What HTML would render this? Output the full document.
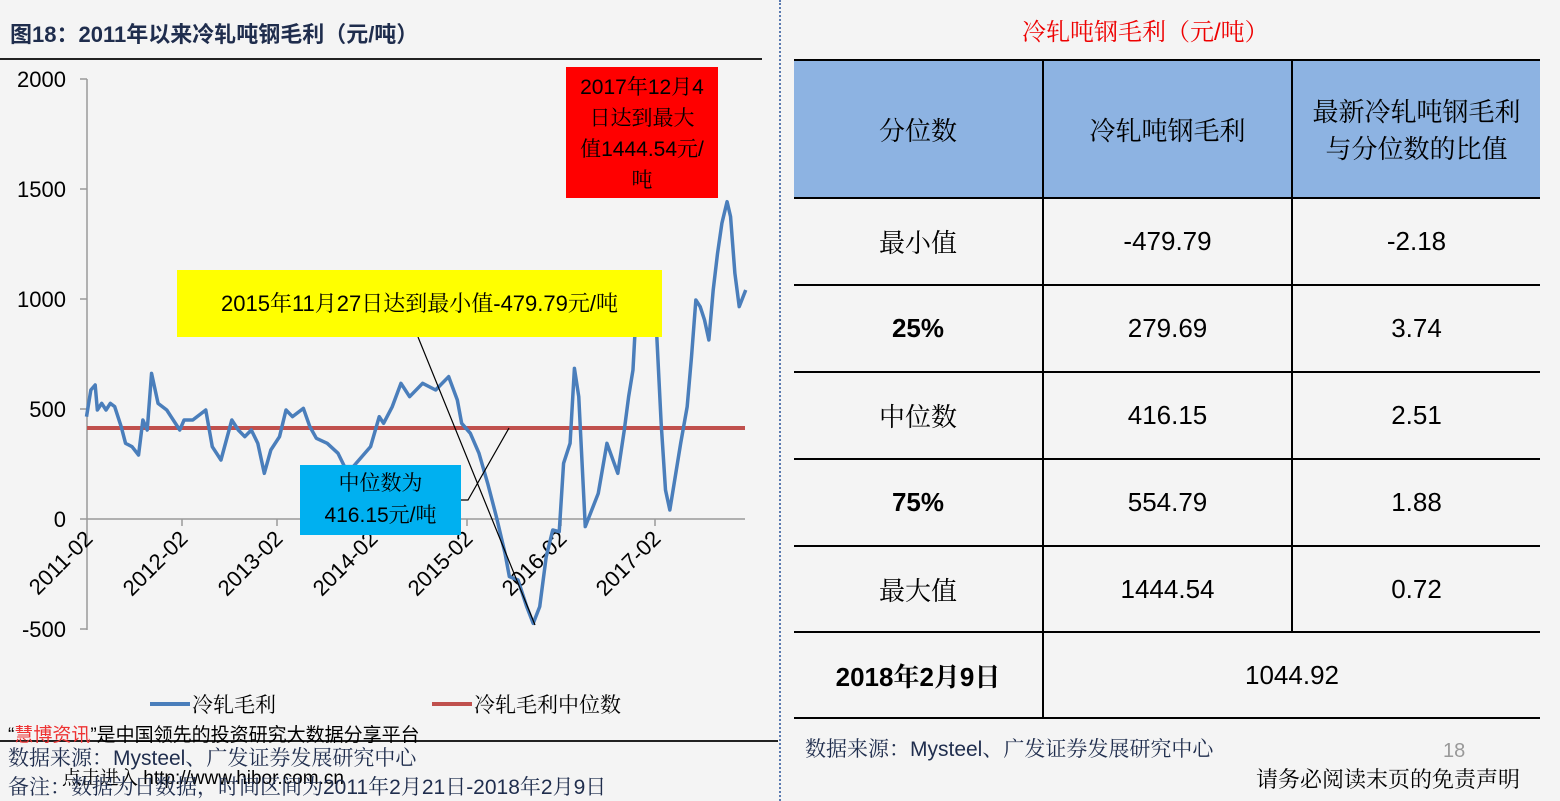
<!DOCTYPE html>
<html><head><meta charset="utf-8"><style>
body{margin:0;width:1560px;height:801px;background:#f4f4f4;font-family:"Liberation Sans","Noto Serif CJK SC",serif;position:relative;overflow:hidden}
.a{position:absolute;white-space:nowrap}
table{position:absolute;left:794px;top:59px;width:746px;border-collapse:collapse;font-size:26px}
td{border:2px solid #000;text-align:center;padding:0}
td.l{border-left:none}
td.r{border-right:none}
</style></head><body>
<div class="a" style="left:10px;top:17px;font-size:22px;font-weight:bold;color:#1f2d4d;font-family:'Liberation Sans','Noto Sans CJK SC',sans-serif">图18：2011年以来冷轧吨钢毛利（元/吨）</div>
<div class="a" style="left:0;top:58px;width:762px;height:2px;background:#222"></div>
<div class="a" style="left:0;top:740px;width:778px;height:2px;background:#222"></div>
<div class="a" style="left:779px;top:0;height:801px;border-left:2px dotted #5a7ab0"></div>

<svg class="a" style="left:0;top:0" width="780" height="801">
<g font-size="22" fill="#000" text-anchor="end" font-family="Liberation Sans">
<text x="66" y="87">2000</text><text x="66" y="197">1500</text><text x="66" y="307">1000</text><text x="66" y="417">500</text><text x="66" y="527">0</text><text x="66" y="637">-500</text>
</g>
<line x1="87" y1="79" x2="87" y2="630" stroke="#999" stroke-width="1.5"/>
<g stroke="#999" stroke-width="1.5">
<line x1="80" y1="79" x2="87" y2="79"/><line x1="80" y1="189" x2="87" y2="189"/><line x1="80" y1="299" x2="87" y2="299"/><line x1="80" y1="409" x2="87" y2="409"/><line x1="80" y1="629" x2="87" y2="629"/>
<line x1="80" y1="519" x2="745" y2="519"/>
<line x1="182" y1="519" x2="182" y2="526"/><line x1="277" y1="519" x2="277" y2="526"/><line x1="372" y1="519" x2="372" y2="526"/><line x1="467" y1="519" x2="467" y2="526"/><line x1="561" y1="519" x2="561" y2="526"/><line x1="655" y1="519" x2="655" y2="526"/>
</g>
<g font-size="22" text-anchor="end" font-family="Liberation Sans">
<text transform="translate(94,540) rotate(-45)">2011-02</text>
<text transform="translate(189,540) rotate(-45)">2012-02</text>
<text transform="translate(284,540) rotate(-45)">2013-02</text>
<text transform="translate(379,540) rotate(-45)">2014-02</text>
<text transform="translate(474,540) rotate(-45)">2015-02</text>
<text transform="translate(568,540) rotate(-45)">2016-02</text>
<text transform="translate(662,540) rotate(-45)">2017-02</text>
</g>
<line x1="87" y1="428" x2="745" y2="428" stroke="#c0504d" stroke-width="4"/>
<g transform="translate(80,190) scale(0.4337,0.33333)">
<polyline fill="none" stroke="#4a7ebb" stroke-width="3.5" vector-effect="non-scaling-stroke" stroke-linejoin="round" points="15,680 25,600 35,585 40,660 50,640 60,660 70,640 80,650 95,710 105,760 120,770 135,795 145,690 155,720 165,550 180,640 200,660 210,680 230,720 240,690 260,690 290,660 305,770 325,810 350,690 365,720 380,740 395,720 410,760 425,850 440,780 460,740 475,660 490,680 515,655 530,710 545,745 570,760 595,790 610,830 630,830 650,800 670,770 690,680 700,700 720,650 740,580 760,620 790,580 820,600 850,560 870,630 880,700 900,730 920,790 940,880 960,980 980,1090 990,1160 1010,1170 1030,1250 1045,1300 1060,1250 1075,1100 1090,1020 1105,1025 1115,820 1130,760 1140,535 1150,620 1165,1010 1180,960 1195,910 1215,760 1240,850 1255,720 1265,620 1275,540 1280,420 1300,300 1320,300 1330,440 1340,700 1350,900 1360,960 1370,880 1385,760 1400,650 1410,500 1420,330 1430,350 1440,390 1450,450 1460,300 1470,190 1480,100 1492,35 1500,80 1510,250 1520,350 1535,300"/>
</g>
<line x1="418" y1="337" x2="535" y2="625" stroke="#000" stroke-width="1.2"/>
<polyline points="461,500 468,500 509,428" fill="none" stroke="#000" stroke-width="1.2"/>
<line x1="150" y1="704" x2="190" y2="704" stroke="#4a7ebb" stroke-width="4"/>
<line x1="432" y1="704" x2="472" y2="704" stroke="#c0504d" stroke-width="4"/>
<text x="192" y="712" font-size="21" font-family="Noto Serif CJK SC">冷轧毛利</text>
<text x="474" y="712" font-size="21" font-family="Noto Serif CJK SC">冷轧毛利中位数</text>
</svg>

<div class="a" style="left:566px;top:67px;width:152px;height:131px;background:#ff0000;font-size:21px;text-align:center;line-height:31px;padding-top:5px;box-sizing:border-box">2017年12月4<br>日达到最大<br>值1444.54元/<br>吨</div>
<div class="a" style="left:177px;top:270px;width:485px;height:67px;background:#ffff00;font-size:22px;text-align:center;line-height:67px">2015年11月27日达到最小值-479.79元/吨</div>
<div class="a" style="left:300px;top:465px;width:161px;height:70px;background:#00b0f0;font-size:21px;text-align:center;line-height:32px;padding-top:3px;box-sizing:border-box">中位数为<br>416.15元/吨</div>

<div class="a" style="left:8px;top:720px;font-size:19px;font-family:'Liberation Sans','Noto Sans CJK SC',sans-serif">“<span style="color:#e33">慧博资讯</span>”是中国领先的投资研究大数据分享平台</div>
<div class="a" style="left:8px;top:742px;font-size:21px;color:#1f2d4d">数据来源：Mysteel、广发证券发展研究中心</div>
<div class="a" style="left:62px;top:763px;font-size:19px">点击进入 http://www.hibor.com.cn</div>
<div class="a" style="left:8px;top:771px;font-size:21px;color:#1f2d4d">备注：数据为日数据，时间区间为2011年2月21日-2018年2月9日</div>

<div class="a" style="left:1022px;top:12px;font-size:24px;color:#e00">冷轧吨钢毛利（元/吨）</div>
<table>
<tr style="height:138px;background:#8db3e2"><td class="l" style="width:248px">分位数</td><td style="width:247px">冷轧吨钢毛利</td><td class="r">最新冷轧吨钢毛利<br>与分位数的比值</td></tr>
<tr style="height:87px"><td class="l">最小值</td><td>-479.79</td><td class="r">-2.18</td></tr>
<tr style="height:87px"><td class="l" style="font-weight:bold">25%</td><td>279.69</td><td class="r">3.74</td></tr>
<tr style="height:87px"><td class="l">中位数</td><td>416.15</td><td class="r">2.51</td></tr>
<tr style="height:87px"><td class="l" style="font-weight:bold">75%</td><td>554.79</td><td class="r">1.88</td></tr>
<tr style="height:86px"><td class="l">最大值</td><td>1444.54</td><td class="r">0.72</td></tr>
<tr style="height:86px"><td class="l" style="font-weight:bold">2018年2月9日</td><td colspan="2" class="r">1044.92</td></tr>
</table>
<div class="a" style="left:805px;top:733px;font-size:21px;color:#1f2d4d">数据来源：Mysteel、广发证券发展研究中心</div>
<div class="a" style="left:1443px;top:740px;font-size:20px;color:#999">18</div>
<div class="a" style="left:1256px;top:763px;font-size:22px">请务必阅读末页的免责声明</div>
</body></html>
